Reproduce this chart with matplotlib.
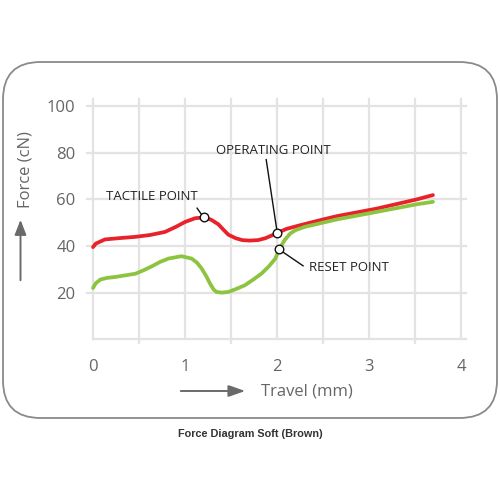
import matplotlib
matplotlib.use('Agg')
import matplotlib.pyplot as plt
from matplotlib.patches import FancyBboxPatch, FancyArrowPatch

# ── data ─────────────────────────────────────────────────────────────────────
red_x = [0.0, 0.03, 0.13, 0.3, 0.46, 0.62, 0.78, 0.9, 1.0, 1.11, 1.2, 1.28,
         1.36, 1.42, 1.47, 1.55, 1.62, 1.7, 1.79, 1.87, 1.94, 2.0, 2.1, 2.25,
         2.45, 2.65, 3.08, 3.52, 3.69]
red_y = [39.5, 41.0, 42.8, 43.4, 43.9, 44.7, 46.0, 48.2, 50.3, 51.9, 52.2, 51.3,
         49.3, 46.8, 44.8, 43.3, 42.5, 42.3, 42.5, 43.3, 44.5, 45.6, 47.3, 48.9,
         50.9, 52.8, 56.0, 60.0, 61.8]

green_x = [0.0, 0.03, 0.08, 0.15, 0.24, 0.46, 0.55, 0.64, 0.73, 0.82, 0.96, 1.07,
           1.13, 1.18, 1.23, 1.27, 1.31, 1.34, 1.4, 1.47, 1.55, 1.65, 1.74, 1.83,
           1.91, 1.98, 2.02, 2.08, 2.14, 2.2, 2.3, 2.65, 3.08, 3.52, 3.69]
green_y = [22.0, 24.0, 25.6, 26.3, 26.7, 28.1, 29.6, 31.3, 33.2, 34.6, 35.6, 34.6,
           32.8, 30.3, 27.0, 23.9, 21.3, 20.3, 20.0, 20.3, 21.5, 23.2, 25.6, 28.2,
           31.3, 34.6, 38.5, 42.5, 45.3, 46.8, 48.2, 51.4, 54.6, 57.9, 58.9]

point_names = ['TACTILE POINT', 'OPERATING POINT', 'RESET POINT']
point_x = [1.2, 2.0, 2.02]
point_y = [52.2, 45.6, 38.5]

x_ticks = [0, 1, 2, 3, 4]
y_ticks = [20, 40, 60, 80, 100]
grid_x = [0, 0.5, 1, 1.5, 2, 2.5, 3, 3.5, 4]
grid_y = [0, 20, 40, 60, 80, 100]

RED = '#e8212b'
GREEN = '#8cc43f'
GRID = '#e3e3e3'
TXT = '#666666'
FONT = ['Open Sans', 'DejaVu Sans']

fig = plt.figure(figsize=(5, 5), dpi=100)
fig.patch.set_facecolor('white')

# rounded frame around the chart
r = 0.075
frame = FancyBboxPatch((0.006 + r, 0.164 + r), 0.988 - 2 * r, 0.712 - 2 * r,
                       boxstyle=f'round,pad={r}', transform=fig.transFigure,
                       facecolor='none', edgecolor='#8a8a8a', lw=1.3, zorder=0)
fig.patches.append(frame)

ax = fig.add_axes([0.1676, 0.3074, 0.7738, 0.4994])
ax.set_xlim(-0.1, 4.1)
ax.set_ylim(-3, 104)
for s in ax.spines.values():
    s.set_visible(False)
ax.set_facecolor('none')

# grid (drawn by hand so the stubs stick out like the original)
for gx in grid_x:
    lo = -1.8 if gx % 1 else 0
    ax.plot([gx, gx], [lo, 103], color=GRID, lw=1.6, zorder=1, clip_on=False)
for gy in grid_y:
    ax.plot([-0.07 if gy else 0, 4.05], [gy, gy], color=GRID, lw=1.6, zorder=1,
            clip_on=False)

ax.plot(red_x, red_y, color=RED, lw=2.7, solid_capstyle='round',
        solid_joinstyle='round', zorder=3)
ax.plot(green_x, green_y, color=GREEN, lw=2.7, solid_capstyle='round',
        solid_joinstyle='round', zorder=3)

# annotation leaders + labels
lab_font = dict(family=FONT, fontsize=9.5, color='#222222')
ax.plot([1.13, point_x[0]], [56.2, point_y[0]], color='#111111', lw=1.0, zorder=4)
ax.plot([1.88, point_x[1]], [77.0, point_y[1]], color='#111111', lw=1.0, zorder=4)
ax.plot([point_x[2], 2.28], [point_y[2], 31.5], color='#111111', lw=1.0, zorder=4)
ax.scatter(point_x, point_y, s=38, facecolor='white', edgecolor='#111111',
           linewidths=1.0, zorder=5)
ax.text(0.14, 61.0, point_names[0], ha='left', va='center', **lab_font)
ax.text(1.33, 81.0, point_names[1], ha='left', va='center', **lab_font)
ax.text(2.35, 30.8, point_names[2], ha='left', va='center', **lab_font)

ax.set_xticks(x_ticks)
ax.set_yticks(y_ticks)
ax.tick_params(length=0, colors=TXT, labelsize=12, pad=6)
ax.tick_params(axis='x', pad=9)
for lab in ax.get_xticklabels() + ax.get_yticklabels():
    lab.set_family(FONT)

# axis titles with arrows
fig.text(0.05, 1 - 170 / 500, 'Force (cN)', rotation=90, ha='center', va='center',
         color=TXT, fontsize=12, family=FONT)
fig.text(0.614, 1 - 392 / 500, 'Travel (mm)', ha='center', va='center',
         color=TXT, fontsize=12, family=FONT)
fig.add_artist(FancyArrowPatch(
    (0.041, 1 - 283 / 500), (0.041, 1 - 217 / 500), transform=fig.transFigure,
    arrowstyle='-|>,head_length=9,head_width=3.5', color='#6a6a6a', lw=1.4))
fig.add_artist(FancyArrowPatch(
    (0.356, 1 - 391 / 500), (0.496, 1 - 391 / 500), transform=fig.transFigure,
    arrowstyle='-|>,head_length=10,head_width=3.5', color='#6a6a6a', lw=1.4))

fig.text(0.5, 1 - 434 / 500, 'Force Diagram Soft (Brown)', ha='center',
         va='center', fontsize=7.8, fontweight='bold', color='#333333',
         family=['Liberation Sans', 'DejaVu Sans'])

fig.savefig('out.png', dpi=100, facecolor='white')
